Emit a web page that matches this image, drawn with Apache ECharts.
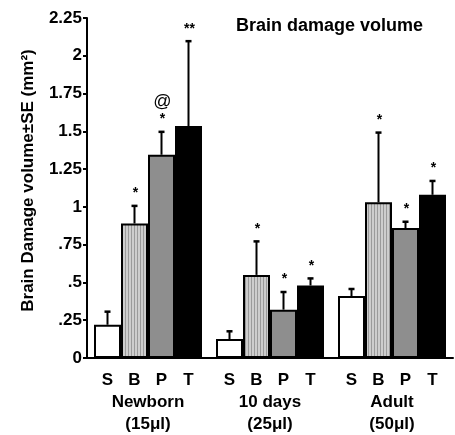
<!DOCTYPE html>
<html>
<head>
<meta charset="utf-8">
<script src="https://cdn.jsdelivr.net/npm/echarts@6/dist/echarts.min.js"></script>
<style>
html,body{margin:0;padding:0;background:#fff;}
#chart{width:455px;height:435px;}
</style>
</head>
<body>
<div id="chart"></div>
<script>
// ---- data ----
const groups = ['Newborn\n(15μl)', '10 days\n(25μl)', 'Adult\n(50μl)'];
const treatments = ['S', 'B', 'P', 'T'];
const meanS = [0.22, 0.125, 0.41];
const meanB = [0.89, 0.55, 1.03];
const meanP = [1.345, 0.32, 0.86];
const meanT = [1.535, 0.48, 1.08];
const upperS = [0.31, 0.18, 0.46];
const upperB = [1.01, 0.775, 1.495];
const upperP = [1.50, 0.44, 0.905];
const upperT = [2.10, 0.53, 1.175];
const marksS = ['', '', ''];
const marksB = ['*', '*', '*'];
const marksP = ['{at|@}\n*', '*', '*'];
const marksT = ['**', '*', '*'];
const yTickLabels = ['0', '.25', '.5', '.75', '1', '1.25', '1.5', '1.75', '2', '2.25'];
const chartTitle = 'Brain damage volume';
const yTitle = 'Brain Damage volume±SE (mm²)';

// ---- styles ----
const FONT = "'Liberation Sans', Arial, sans-serif";
const BAR_W = 27;

function stripePattern() {
  const c = document.createElement('canvas');
  c.width = 3; c.height = 4;
  const g = c.getContext('2d');
  g.fillStyle = '#cdcdcd'; g.fillRect(0, 0, 3, 4);
  g.fillStyle = '#9a9a9a'; g.fillRect(2, 0, 1, 4);
  return c;
}

const means = [meanS, meanB, meanP, meanT];
const uppers = [upperS, upperB, upperP, upperT];
const marks = [marksS, marksB, marksP, marksT];
const fills = ['#ffffff', { image: stripePattern(), repeat: 'repeat' }, '#8e8e8e', '#000000'];

const barSeries = treatments.map((t, i) => ({
  name: t,
  type: 'bar',
  data: means[i],
  barWidth: BAR_W,
  barGap: '0%',
  itemStyle: { color: fills[i], borderColor: '#000', borderWidth: 2 },
  label: {
    show: true, position: 'bottom', distance: 14,
    formatter: t, color: '#000', fontFamily: FONT, fontWeight: 'bold', fontSize: 17
  },
  emphasis: { disabled: true },
  z: 2
}));

const errData = [];
treatments.forEach((t, i) => {
  groups.forEach((g, j) => {
    errData.push([j, i, means[i][j], uppers[i][j], marks[i][j]]);
  });
});

const errSeries = {
  type: 'custom',
  data: errData,
  encode: { x: 0, y: 3 },
  z: 5,
  silent: true,
  renderItem: function (params, api) {
    const cat = api.value(0), si = api.value(1);
    const base = api.coord([cat, api.value(2)]);
    const top = api.coord([cat, api.value(3)]);
    const x = base[0] + (si - 1.5) * BAR_W;
    const children = [
      { type: 'line', shape: { x1: x, y1: base[1], x2: x, y2: top[1] }, style: { stroke: '#000', lineWidth: 2 } },
      { type: 'line', shape: { x1: x - 3, y1: top[1] + 0.5, x2: x + 3, y2: top[1] + 0.5 }, style: { stroke: '#000', lineWidth: 2.5 } }
    ];
    const m = errData[params.dataIndex][4];
    if (m) {
      children.push({
        type: 'text',
        style: {
          x: x + 1, y: top[1] - 5, text: m, align: 'center', verticalAlign: 'bottom',
          fontFamily: FONT, fontSize: 14, fontWeight: 'bold', fill: '#000', lineHeight: 14,
          rich: { at: { fontSize: 18, fontWeight: 'normal', fontFamily: FONT, lineHeight: 20 } }
        }
      });
    }
    return { type: 'group', children: children };
  }
};

const chart = echarts.init(document.getElementById('chart'), null, { renderer: 'canvas' });
chart.setOption({
  animation: false,
  backgroundColor: '#fff',
  title: {
    text: chartTitle, left: 236, top: 17, padding: 0,
    textStyle: { fontFamily: FONT, fontSize: 18, fontWeight: 'bold', color: '#000' }
  },
  grid: { left: 87, right: 2, top: 18, bottom: 74, containLabel: false },
  xAxis: {
    type: 'category',
    data: groups,
    axisLine: { lineStyle: { color: '#000', width: 2 } },
    axisTick: { show: false },
    axisLabel: {
      margin: 33, interval: 0, color: '#000', fontFamily: FONT, fontWeight: 'bold',
      fontSize: 17, lineHeight: 22
    }
  },
  yAxis: {
    type: 'value', min: 0, max: 2.25, interval: 0.25,
    name: yTitle, nameLocation: 'middle', nameGap: 50,
    nameTextStyle: { fontFamily: FONT, fontWeight: 'bold', fontSize: 17, color: '#000', padding: [0, 0, 0, 15] },
    axisLine: { show: true, lineStyle: { color: '#000', width: 2 } },
    axisTick: { show: true, length: 4, lineStyle: { color: '#000', width: 2 } },
    splitLine: { show: false },
    axisLabel: {
      margin: 5, color: '#000', fontFamily: FONT, fontWeight: 'bold', fontSize: 17,
      formatter: function (v) { return yTickLabels[Math.round(v / 0.25)]; }
    }
  },
  series: barSeries.concat([errSeries])
});
</script>
</body>
</html>
